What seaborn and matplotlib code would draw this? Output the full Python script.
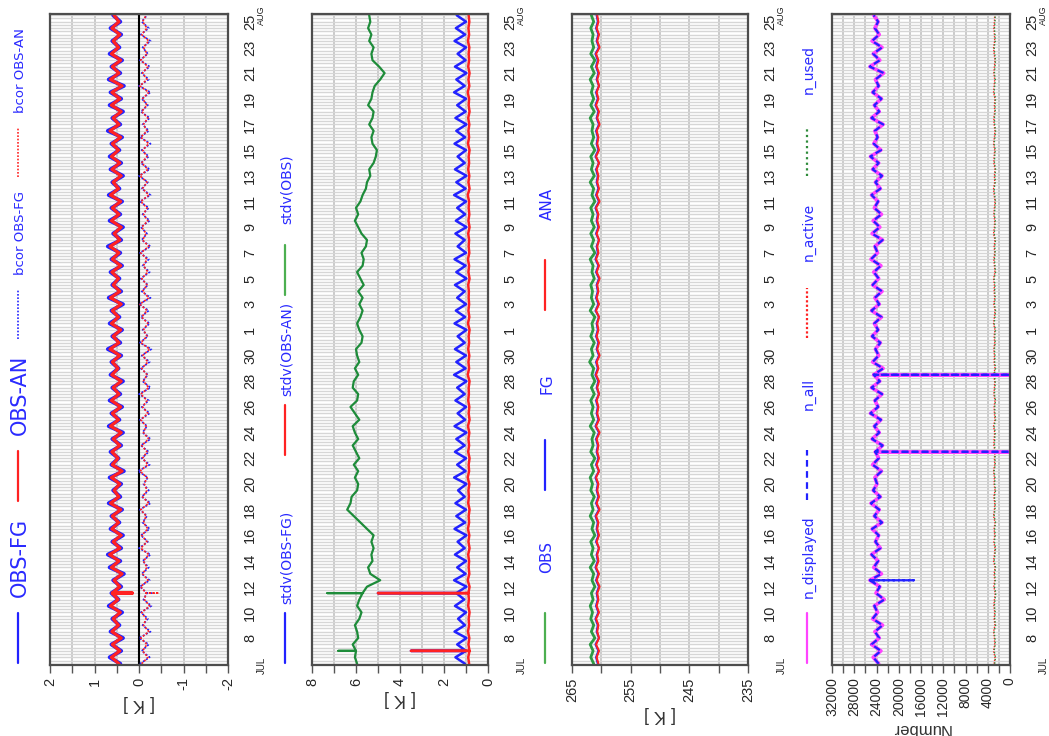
import numpy as np
import matplotlib
matplotlib.use("Agg")
import matplotlib.pyplot as plt
import seaborn as sns
from matplotlib.lines import Line2D
from matplotlib.ticker import MultipleLocator, FixedLocator, FuncFormatter

# ---------------- data (12-hourly, starting 6 Jul 00 UTC) ----------------
start_day = 6.0          # day number (1 Jul = 1, 1 Aug = 32)
n_steps = 102
tick_days = [8, 10, 12, 14, 16, 18, 20, 22, 24, 26, 28, 30,
             32, 34, 36, 38, 40, 42, 44, 46, 48, 50, 52, 54, 56]
tick_labels = ["8", "10", "12", "14", "16", "18", "20", "22", "24", "26", "28", "30",
               "1", "3", "5", "7", "9", "11", "13", "15", "17", "19", "21", "23", "25"]

# panel 1 : departures [K]
obs_fg = [0.42,0.66,0.40,0.62,0.36,0.64,0.44,0.60,0.38,0.68,
          0.46,0.62,0.40,0.58,0.34,0.66,0.42,0.70,0.40,0.60,
          0.36,0.64,0.44,0.62,0.38,0.68,0.42,0.58,0.40,0.66,
          0.34,0.62,0.46,0.64,0.40,0.60,0.36,0.68,0.44,0.62,
          0.38,0.66,0.42,0.60,0.36,0.64,0.46,0.62,0.40,0.70,
          0.42,0.60,0.38,0.66,0.44,0.62,0.36,0.68,0.40,0.60,
          0.44,0.64,0.38,0.62,0.42,0.70,0.40,0.58,0.36,0.66,
          0.42,0.62,0.38,0.68,0.44,0.60,0.36,0.64,0.40,0.66,
          0.44,0.62,0.38,0.70,0.42,0.60,0.36,0.66,0.40,0.64,
          0.34,0.68,0.42,0.62,0.38,0.66,0.44,0.60,0.40,0.64,
          0.42,0.58]
obs_an = [0.45,0.62,0.43,0.60,0.40,0.61,0.46,0.58,0.42,0.64,
          0.47,0.60,0.43,0.56,0.38,0.62,0.45,0.66,0.43,0.58,
          0.40,0.61,0.46,0.60,0.41,0.64,0.45,0.56,0.43,0.62,
          0.38,0.60,0.47,0.61,0.43,0.58,0.40,0.64,0.46,0.60,
          0.41,0.62,0.45,0.58,0.40,0.61,0.47,0.60,0.43,0.65,
          0.45,0.58,0.41,0.62,0.46,0.60,0.40,0.64,0.43,0.58,
          0.46,0.61,0.41,0.60,0.45,0.65,0.43,0.56,0.40,0.62,
          0.45,0.60,0.41,0.64,0.46,0.58,0.40,0.61,0.43,0.62,
          0.46,0.60,0.41,0.65,0.45,0.58,0.40,0.62,0.43,0.61,
          0.38,0.64,0.45,0.60,0.41,0.62,0.46,0.58,0.43,0.61,
          0.45,0.56]
bcor_obs_fg = [-0.02,-0.24,-0.06,-0.22,0.00,-0.26,-0.08,-0.20,-0.04,-0.28,
               -0.10,-0.18,-0.02,-0.24,-0.06,-0.22,-0.08,-0.26,0.00,-0.20,
               -0.04,-0.24,-0.08,-0.18,-0.02,-0.26,-0.06,-0.22,-0.10,-0.20,
               0.02,-0.24,-0.06,-0.22,-0.04,-0.26,-0.08,-0.18,-0.02,-0.24,
               -0.06,-0.22,0.00,-0.26,-0.08,-0.20,-0.04,-0.24,-0.06,-0.28,
               -0.02,-0.20,-0.08,-0.24,-0.04,-0.22,0.00,-0.26,-0.06,-0.20,
               -0.04,-0.24,-0.08,-0.22,-0.02,-0.26,-0.06,-0.18,-0.04,-0.24,
               -0.08,-0.22,-0.02,-0.26,-0.06,-0.20,0.00,-0.24,-0.04,-0.22,
               -0.06,-0.26,-0.02,-0.22,-0.08,-0.24,-0.04,-0.20,-0.06,-0.26,
               0.00,-0.22,-0.06,-0.24,-0.02,-0.20,-0.08,-0.26,-0.04,-0.22,
               -0.06,-0.18]
bcor_obs_an = [-0.06,-0.20,-0.08,-0.18,-0.04,-0.22,-0.10,-0.16,-0.06,-0.24,
               -0.12,-0.16,-0.04,-0.20,-0.08,-0.18,-0.10,-0.22,-0.04,-0.18,
               -0.06,-0.20,-0.10,-0.16,-0.04,-0.22,-0.08,-0.18,-0.12,-0.18,
               -0.02,-0.20,-0.08,-0.18,-0.06,-0.22,-0.10,-0.16,-0.04,-0.20,
               -0.08,-0.18,-0.04,-0.22,-0.10,-0.18,-0.06,-0.20,-0.08,-0.24,
               -0.04,-0.18,-0.10,-0.20,-0.06,-0.18,-0.02,-0.22,-0.08,-0.18,
               -0.06,-0.20,-0.10,-0.18,-0.04,-0.22,-0.08,-0.16,-0.06,-0.20,
               -0.10,-0.18,-0.04,-0.22,-0.08,-0.18,-0.02,-0.20,-0.06,-0.18,
               -0.08,-0.22,-0.04,-0.18,-0.10,-0.20,-0.06,-0.18,-0.08,-0.22,
               -0.02,-0.18,-0.08,-0.20,-0.04,-0.18,-0.10,-0.22,-0.06,-0.18,
               -0.08,-0.16]

# panel 2 : standard deviations [K]
stdv_obs_fg = [1.05,1.48,1.00,1.40,0.98,1.52,1.05,1.36,1.00,1.50,
               1.08,1.44,0.98,1.54,1.02,1.40,1.00,1.50,1.06,1.38,
               0.98,1.52,1.04,1.44,1.00,1.48,1.06,1.36,0.98,1.54,
               1.02,1.40,1.00,1.50,1.06,1.44,0.98,1.52,1.04,1.38,
               1.00,1.48,1.06,1.40,0.98,1.54,1.02,1.44,1.00,1.50,
               1.06,1.38,0.98,1.52,1.04,1.46,1.00,1.40,1.06,1.50,
               0.98,1.44,1.02,1.52,1.00,1.38,1.06,1.48,0.98,1.46,
               1.04,1.40,1.00,1.54,1.02,1.44,0.98,1.50,1.06,1.38,
               1.00,1.52,1.04,1.44,0.98,1.48,1.02,1.40,1.00,1.54,
               1.06,1.44,0.98,1.50,1.02,1.38,1.00,1.52,1.04,1.46,
               1.00,1.42]
stdv_obs_an = [0.86,0.90,0.84,0.89,0.85,0.91,0.86,0.88,0.84,0.90,
               0.87,0.89,0.84,0.92,0.85,0.88,0.86,0.90,0.84,0.89,
               0.85,0.91,0.86,0.88,0.84,0.90,0.87,0.89,0.85,0.92,
               0.86,0.88,0.84,0.90,0.86,0.89,0.85,0.91,0.84,0.88,
               0.85,0.90,0.87,0.88,0.84,0.92,0.86,0.89,0.85,0.90,
               0.86,0.88,0.84,0.91,0.85,0.89,0.86,0.88,0.87,0.90,
               0.84,0.89,0.86,0.91,0.85,0.88,0.86,0.90,0.84,0.89,
               0.85,0.88,0.86,0.92,0.84,0.89,0.85,0.90,0.86,0.88,
               0.84,0.91,0.86,0.89,0.85,0.90,0.84,0.88,0.86,0.92,
               0.85,0.89,0.84,0.90,0.86,0.88,0.85,0.91,0.86,0.89,
               0.85,0.88]
stdv_obs = [5.95,6.05,6.00,6.15,5.90,5.95,6.05,5.85,5.75,5.95,
            5.85,5.70,5.50,4.90,5.35,5.45,5.25,5.30,5.20,5.30,
            5.20,5.50,5.80,6.10,6.40,6.25,6.20,5.95,5.90,6.05,
            5.90,6.10,5.85,6.00,6.15,5.90,6.05,6.15,5.85,6.05,
            6.25,5.95,5.90,6.15,6.10,5.90,6.05,5.85,5.95,6.00,
            5.75,5.70,5.85,5.95,5.80,5.70,5.85,5.70,5.90,5.65,
            5.80,5.95,5.70,5.65,5.75,5.55,5.50,5.75,5.90,6.05,
            5.90,6.00,5.80,5.70,5.55,5.50,5.35,5.40,5.20,5.10,
            5.05,5.25,5.30,5.20,5.40,5.25,5.20,5.45,5.30,5.25,
            5.15,4.90,4.70,4.95,5.25,5.30,5.20,5.40,5.30,5.45,
            5.35,5.40]

# panel 3 : mean values [K]
obs_mean = [261.3,261.8,261.4,261.9,261.1,261.7,261.3,261.8,261.5,261.9,
            261.4,261.7,261.1,261.6,261.3,261.9,261.2,261.7,261.4,261.8,
            261.1,261.6,261.3,261.9,261.4,261.7,261.2,261.8,261.5,261.9,
            261.3,261.7,261.1,261.8,261.4,261.6,261.2,261.9,261.3,261.7,
            261.4,261.8,261.2,261.7,261.1,261.6,261.3,262.0,261.4,261.7,
            261.2,261.8,261.4,261.6,261.1,261.9,261.3,261.7,261.5,261.8,
            261.2,261.6,261.4,261.9,261.1,261.7,261.3,261.8,261.2,261.7,
            261.4,261.8,261.1,261.6,261.3,261.9,261.2,261.7,261.4,261.8,
            261.1,261.7,261.3,261.6,261.4,261.9,261.2,261.8,261.3,261.7,
            261.4,261.9,261.2,261.7,261.1,261.8,261.3,261.6,261.4,261.8,
            261.3,261.7]
fg_mean = [260.6,260.9,260.5,261.0,260.4,260.8,260.6,261.0,260.5,260.9,
           260.6,260.8,260.4,260.9,260.5,261.0,260.6,260.8,260.4,260.9,
           260.5,260.8,260.6,261.0,260.4,260.9,260.5,260.8,260.6,261.0,
           260.4,260.9,260.5,260.8,260.6,260.9,260.4,261.0,260.5,260.8,
           260.6,260.9,260.4,260.8,260.5,261.0,260.6,260.9,260.4,260.8,
           260.5,260.9,260.6,260.8,260.4,261.0,260.5,260.9,260.6,260.8,
           260.4,260.9,260.5,261.0,260.6,260.8,260.4,260.9,260.5,260.8,
           260.6,261.0,260.4,260.9,260.5,260.8,260.6,260.9,260.4,261.0,
           260.5,260.8,260.6,260.9,260.4,260.8,260.5,261.0,260.6,260.9,
           260.4,260.8,260.5,260.9,260.6,261.0,260.4,260.8,260.5,260.9,
           260.6,260.8]
ana_mean = [260.5,260.8,260.4,260.9,260.4,260.7,260.5,260.9,260.4,260.8,
            260.5,260.7,260.3,260.8,260.4,260.9,260.5,260.7,260.4,260.8,
            260.4,260.7,260.5,260.9,260.3,260.8,260.4,260.7,260.5,260.9,
            260.4,260.8,260.4,260.7,260.5,260.8,260.3,260.9,260.4,260.7,
            260.5,260.8,260.4,260.7,260.4,260.9,260.5,260.8,260.3,260.7,
            260.4,260.8,260.5,260.7,260.4,260.9,260.4,260.8,260.5,260.7,
            260.3,260.8,260.4,260.9,260.5,260.7,260.4,260.8,260.4,260.7,
            260.5,260.9,260.3,260.8,260.4,260.7,260.5,260.8,260.4,260.9,
            260.4,260.7,260.5,260.8,260.3,260.7,260.4,260.9,260.5,260.8,
            260.4,260.7,260.4,260.8,260.5,260.9,260.3,260.7,260.4,260.8,
            260.5,260.7]

# panel 4 : numbers of observations
n_displayed = [23600,24600,23200,24900,23500,24300,22900,24700,23800,24400,
               22600,24100,23400,25200,23100,24500,23700,24900,23300,24200,
               23600,24800,23000,24400,23500,25000,23300,24600,23900,24300,
               23100,24700,23600,24200,22900,24800,23500,24400,23200,25100,
               23700,24300,23000,24900,23400,24500,22800,24700,23600,24200,
               23300,24800,23700,24400,23100,24900,23500,24300,23000,24700,
               23600,24500,23200,25000,23800,24300,22900,24800,23400,24600,
               23100,24400,23700,24900,23300,24200,23000,24700,23600,25100,
               23200,24500,23800,24300,22800,24900,23500,24400,23100,24700,
               23600,24200,22700,25200,23400,24600,23000,24800,23500,24300,
               23700,24500]
n_all = list(n_displayed)
n_active = [2850,2700,2950,2750,2800,2950,2700,2850,2750,2900,
            2800,2650,2900,2750,2850,2700,2950,2800,2700,2900,
            2750,2850,2700,2950,2800,2750,2900,2700,2850,2800,
            2950,2750,2800,2700,2900,2850,2750,2950,2700,2800,
            2850,2700,2900,2800,2750,2950,2700,2850,2800,2900,
            2750,2850,2700,2950,2800,2700,2900,2750,2850,2800,
            2950,2700,2800,2900,2750,2850,2700,2950,2800,2750,
            2900,2800,2700,2850,2950,2750,2800,2700,2900,2850,
            2750,2950,2800,2700,2850,2900,2750,2800,2700,2950,
            2850,2750,2900,2800,2700,2850,2950,2750,2800,2900,
            2800,2750]
n_used = [2750,2600,2850,2650,2700,2850,2600,2750,2650,2800,
          2700,2550,2800,2650,2750,2600,2850,2700,2600,2800,
          2650,2750,2600,2850,2700,2650,2800,2600,2750,2700,
          2850,2650,2700,2600,2800,2750,2650,2850,2600,2700,
          2750,2600,2800,2700,2650,2850,2600,2750,2700,2800,
          2650,2750,2600,2850,2700,2600,2800,2650,2750,2700,
          2850,2600,2700,2800,2650,2750,2600,2850,2700,2650,
          2800,2700,2600,2750,2850,2650,2700,2600,2800,2750,
          2650,2850,2700,2600,2750,2800,2650,2700,2600,2850,
          2750,2650,2800,2700,2600,2750,2850,2650,2700,2800,
          2700,2650]

# single-cycle outliers: {step index: value}
spk_obs_an = {11: 0.15}
spk_bcor_fg = {11: -0.30}
spk_bcor_an = {11: -0.45}
spk_stdv_fg = {2: 3.5, 11: 5.0}
spk_stdv_an = {2: 3.5, 11: 5.0}
spk_stdv_obs = {2: 6.8, 11: 7.3}
spk_n_displayed = {33: 0, 45: 0}
spk_n_all = {13: 17300, 33: 0, 45: 0}
spk_n_active = {33: 0, 45: 0}
spk_n_used = {33: 0, 45: 0}

days = start_day + 0.5 * np.arange(n_steps)

# ---------------- styling ----------------
sns.set_theme(style="white")
plt.rcParams["font.family"] = ["Liberation Sans", "DejaVu Sans"]
plt.rcParams["axes.unicode_minus"] = False

W, H = 1049, 736
fig = plt.figure(figsize=(W / 100, H / 100), dpi=100)
fig.patch.set_facecolor("white")

BLUE = "#2222ff"
RED = "#ff2222"
GREEN = "#1e8c3a"
MAG = "#ff44ff"
TXT = "#2a2aff"


def spiked(vals, spikes):
    xs, ts = [], []
    for i, (t, v) in enumerate(zip(days, vals)):
        xs.append(v)
        ts.append(t)
        if i in spikes:
            xs += [spikes[i], v]
            ts += [t, t]
    return np.array(xs, float), np.array(ts, float)


def draw(ax, vals, spikes, **kw):
    xs, ts = spiked(vals, spikes)
    sns.lineplot(x=xs, y=ts, sort=False, estimator=None, ax=ax, legend=False, **kw)


def px_axes(left, right, top=14, bottom=665):
    return fig.add_axes([left / W, 1 - bottom / H, (right - left) / W, (bottom - top) / H])


def setup(ax, xlim, major_locs, minor_step, label, fmt, labelsize=10.5):
    ax.set_xlim(*xlim)
    ax.set_ylim(5.9, 56.6)
    ax.xaxis.set_major_locator(FixedLocator(major_locs))
    ax.xaxis.set_minor_locator(MultipleLocator(minor_step))
    ax.xaxis.set_major_formatter(FuncFormatter(fmt))
    ax.grid(which="both", axis="x", color="#bcbcbc", lw=1.1)
    ax.yaxis.set_major_locator(FixedLocator(tick_days))
    ax.yaxis.set_major_formatter(FuncFormatter(lambda v, p: tick_labels[tick_days.index(int(round(v)))]))
    ax.yaxis.set_minor_locator(MultipleLocator(0.25))
    ax.grid(which="both", axis="y", color="#d6d6d6", lw=1.0)
    ax.set_axisbelow(True)
    ax.yaxis.tick_right()
    ax.tick_params(axis="y", which="both", length=0, pad=11, labelsize=10.5, labelrotation=90)
    for lab in ax.get_yticklabels():
        lab.set_va("center")
    ax.tick_params(axis="x", which="both", direction="out", length=6, width=1.0,
                   color="#555555", bottom=True)
    ax.tick_params(axis="x", which="major", labelsize=labelsize, labelrotation=90, pad=3)
    ax.set_xlabel(label, rotation=180, fontsize=13, color="#333333", labelpad=3)
    ax.set_ylabel("")
    for s in ax.spines.values():
        s.set_color("#4d4d4d")
        s.set_linewidth(1.6)
    ax.set_facecolor("white")


def legend_entry(x, start, color, ls, text, fs, lw=1.6):
    fig.add_artist(Line2D([x / W, x / W], [1 - start / H, 1 - (start - 50) / H],
                          color=color, ls=ls, lw=lw, transform=fig.transFigure))
    fig.text(x / W + 0.002, 1 - (start - 106) / H, text, rotation=90, ha="center",
             va="center", color=TXT, fontsize=fs, family=["DejaVu Sans"])


def months(right):
    fig.text((right + 34) / W, 1 - 665 / H, "JUL", rotation=90, ha="center", va="center",
             fontsize=7, color="#222222")
    fig.text((right + 33) / W, 1 - 15 / H, "AUG", rotation=90, ha="center", va="center",
             fontsize=6.5, color="#222222")


num = lambda v, p: "%g" % v

# ---- panel 1 ----
ax1 = px_axes(50, 228)
ax1.axvline(0, color="black", lw=1.5, zorder=1.5)
draw(ax1, bcor_obs_fg, spk_bcor_fg, color=BLUE, lw=1.2, linestyle=(0, (1.2, 1.0)))
draw(ax1, bcor_obs_an, spk_bcor_an, color=RED, lw=1.2, linestyle=(0, (1.2, 1.0)))
draw(ax1, obs_fg, {}, color=BLUE, lw=2.8)
draw(ax1, obs_an, spk_obs_an, color=RED, lw=2.3)
setup(ax1, (2, -2), [2, 1, 0, -1, -2], 0.5, "[ K ]", num)
months(228)
legend_entry(18, 663, BLUE, "-", "OBS-FG", 15)
legend_entry(18, 501, RED, "-", "OBS-AN", 15)
legend_entry(18, 339, BLUE, (0, (1, 1)), "bcor OBS-FG", 9.5, lw=1.2)
legend_entry(18, 177, RED, (0, (1, 1)), "bcor OBS-AN", 9.5, lw=1.2)

# ---- panel 2 ----
ax2 = px_axes(312, 488)
draw(ax2, stdv_obs_fg, spk_stdv_fg, color=BLUE, lw=1.8)
draw(ax2, stdv_obs_an, spk_stdv_an, color=RED, lw=1.8)
draw(ax2, stdv_obs, spk_stdv_obs, color=GREEN, lw=1.6)
setup(ax2, (8, 0), [8, 6, 4, 2, 0], 1, "[ K ]", num)
months(488)
legend_entry(285, 663, BLUE, "-", "stdv(OBS-FG)", 10)
legend_entry(285, 455, RED, "-", "stdv(OBS-AN)", 10)
legend_entry(285, 295, "#4caf50", "-", "stdv(OBS)", 10)

# ---- panel 3 ----
ax3 = px_axes(572, 748)
draw(ax3, obs_mean, {}, color="#2e9a44", lw=2.0)
draw(ax3, fg_mean, {}, color=BLUE, lw=1.5)
draw(ax3, ana_mean, {}, color=RED, lw=1.5)
setup(ax3, (265, 235), [265, 255, 245, 235], 5, "[ K ]", num)
months(748)
legend_entry(545, 663, "#4caf50", "-", "OBS", 11)
legend_entry(545, 490, BLUE, "-", "FG", 11)
legend_entry(545, 310, RED, "-", "ANA", 11)

# ---- panel 4 ----
ax4 = px_axes(832, 1010)
draw(ax4, n_active, spk_n_active, color=RED, lw=1.0, linestyle=(0, (1, 1)))
draw(ax4, n_used, spk_n_used, color="#2e8b3a", lw=1.0, linestyle=(0, (1, 1.5)))
draw(ax4, n_displayed, spk_n_displayed, color=MAG, lw=2.6)
draw(ax4, n_all, spk_n_all, color=BLUE, lw=1.6, linestyle=(0, (3, 1.5)))
setup(ax4, (32000, 0), list(range(32000, -1, -4000)), 2000, "Number", num, labelsize=10)
ax4.xaxis.label.set_fontsize(12)
months(1010)
legend_entry(807, 663, MAG, "-", "n_displayed", 10)
legend_entry(807, 500, BLUE, (0, (3, 2)), "n_all", 10)
legend_entry(807, 338, RED, (0, (1, 1)), "n_active", 10)
legend_entry(807, 176, "#2e8b3a", (0, (1, 1.5)), "n_used", 10)

fig.savefig("out.png", dpi=100, facecolor="white")
